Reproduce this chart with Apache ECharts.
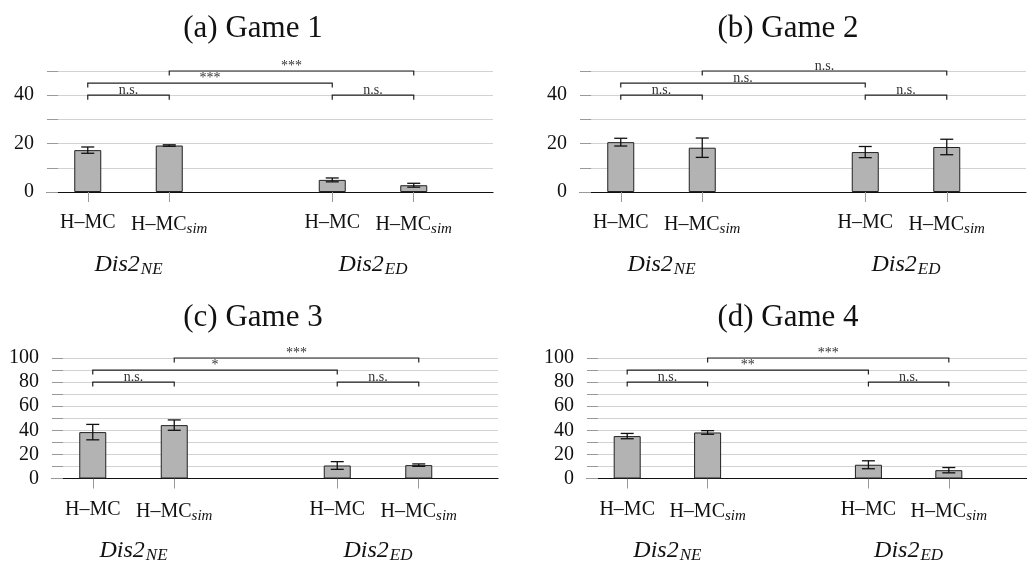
<!DOCTYPE html>
<html>
<head>
<meta charset="utf-8">
<script src="https://cdn.jsdelivr.net/npm/echarts@6/dist/echarts.min.js"></script>
<style>
html, body { margin: 0; padding: 0; background: #fff; }
#main { width: 1027px; height: 566px; }
</style>
</head>
<body>
<div id="main"></div>
<script>
// x slots: slot 2 is the empty gap between the two groups
var categories = ['H–MC', 'H–MC_sim', '', 'H–MC', 'H–MC_sim'];
var barSlots = [0, 1, 3, 4];
var groupNames = ['Dis2_NE', 'Dis2_ED'];
var groupSlots = [0.5, 3.5];

var titles = ['(a) Game 1', '(b) Game 2', '(c) Game 3', '(d) Game 4'];
var yMax = [50, 50, 100, 100];

var game1Mean = [17.3, 19.2, 5.0, 2.8];
var game1Err = [1.3, 0.3, 0.8, 0.8];
var game2Mean = [20.6, 18.3, 16.5, 18.6];
var game2Err = [1.6, 4.0, 2.3, 3.2];
var game3Mean = [38.5, 44.3, 10.8, 11.1];
var game3Err = [6.4, 4.3, 3.2, 1.0];
var game4Mean = [35.2, 38.2, 11.4, 6.9];
var game4Err = [2.2, 1.5, 3.3, 2.2];

// significance brackets: pairs of bars (index into barSlots), heights, labels
var bracketPairs = [[0, 1], [0, 2], [1, 3], [2, 3]];
var levelsSmall = [40, 45, 50, 40];
var levelsLarge = [80, 90, 100, 80];
var game1Sig = ['n.s.', '***', '***', 'n.s.'];
var game2Sig = ['n.s.', 'n.s.', 'n.s.', 'n.s.'];
var game3Sig = ['n.s.', '*', '***', 'n.s.'];
var game4Sig = ['n.s.', '**', '***', 'n.s.'];

var means = [game1Mean, game2Mean, game3Mean, game4Mean];
var errs = [game1Err, game2Err, game3Err, game4Err];
var sigs = [game1Sig, game2Sig, game3Sig, game4Sig];
var levels = [levelsSmall, levelsSmall, levelsLarge, levelsLarge];

var SERIF = '"Liberation Serif", "Times New Roman", serif';
var gridLeft = [47, 580, 52, 587];
var gridTop = [71, 71, 358, 358];
var gridH = [121, 121, 120.5, 120.5];
var titleX = [248, 783, 248, 783];
var titleY = [8, 8, 297, 297];
var xMax = -0.5 + 446 / 81.5;

function subLabel(name, bigStyle) {
  var parts = name.split('_');
  var head = bigStyle ? '{i|' + parts[0] + '}' : parts[0];
  return parts.length > 1 ? head + '{s|' + parts[1] + '}' : head;
}

function renderErr(params, api) {
  var x = api.value(0);
  var p1 = api.coord([x, api.value(1)]);
  var p2 = api.coord([x, api.value(2)]);
  var cap = 6.5;
  var st = { stroke: '#111', lineWidth: 1.3 };
  return {
    type: 'group',
    children: [
      { type: 'line', shape: { x1: p1[0], y1: p1[1], x2: p2[0], y2: p2[1] }, style: st },
      { type: 'line', shape: { x1: p1[0] - cap, y1: p1[1], x2: p1[0] + cap, y2: p1[1] }, style: st },
      { type: 'line', shape: { x1: p2[0] - cap, y1: p2[1], x2: p2[0] + cap, y2: p2[1] }, style: st }
    ]
  };
}

function bracketRenderer(labels) {
  return function (params, api) {
    var a = api.coord([api.value(0), api.value(2)]);
    var b = api.coord([api.value(1), api.value(2)]);
    var leg = 4.5;
    return {
      type: 'group',
      children: [
        {
          type: 'polyline',
          shape: { points: [[a[0], a[1] + leg], [a[0], a[1]], [b[0], b[1]], [b[0], b[1] + leg]] },
          style: { stroke: '#222', lineWidth: 1.2, fill: null }
        },
        {
          type: 'text',
          style: {
            text: labels[params.dataIndex],
            x: (a[0] + b[0]) / 2, y: a[1] + 2,
            align: 'center', verticalAlign: 'bottom',
            font: '14px ' + SERIF, fill: '#333'
          }
        }
      ]
    };
  };
}

var grid = [], xAxis = [], yAxis = [], series = [], title = [];
for (var p = 0; p < 4; p++) {
  grid.push({ left: gridLeft[p], top: gridTop[p], width: 446, height: gridH[p] });
  title.push({
    text: titles[p], left: titleX[p], top: titleY[p], textAlign: 'center',
    textStyle: { fontFamily: SERIF, fontSize: 31, fontWeight: 'normal', color: '#111' }
  });
  xAxis.push({
    type: 'value', gridIndex: p, min: -0.5, max: xMax,
    splitLine: { show: false },
    axisLine: { lineStyle: { color: '#111', width: 1.2 } },
    axisTick: { customValues: barSlots, length: 10, lineStyle: { color: '#999' } },
    axisLabel: {
      customValues: barSlots, margin: 21, color: '#111',
      fontFamily: SERIF, fontSize: 20,
      formatter: function (v) { return subLabel(categories[v], false); },
      rich: { s: { fontFamily: SERIF, fontStyle: 'italic', fontSize: 15, color: '#111', padding: [9, 0, 0, 0] } }
    }
  });
  xAxis.push({
    type: 'value', gridIndex: p, min: -0.5, max: xMax, position: 'bottom',
    splitLine: { show: false },
    axisLine: { show: false, onZero: false },
    axisTick: { show: false },
    axisLabel: {
      customValues: groupSlots, margin: 59, color: '#111',
      formatter: function (v) { return subLabel(groupNames[groupSlots.indexOf(v)], true); },
      rich: {
        i: { fontFamily: SERIF, fontStyle: 'italic', fontSize: 24, color: '#111' },
        s: { fontFamily: SERIF, fontStyle: 'italic', fontSize: 17, color: '#111', padding: [10, 0, 0, 1] }
      }
    }
  });
  yAxis.push({
    type: 'value', gridIndex: p, min: 0, max: yMax[p], interval: 10,
    axisLine: { show: false, onZero: false },
    axisTick: { show: true, inside: true, length: 11, lineStyle: { color: '#999' } },
    splitLine: { lineStyle: { color: '#d2d2d2', width: 1 } },
    axisLabel: {
      margin: 13, color: '#111', fontFamily: SERIF, fontSize: 20,
      formatter: function (v) { return v % 20 === 0 ? String(v) : ''; }
    }
  });
  var m = means[p], e = errs[p], lv = levels[p];
  series.push({
    type: 'bar', xAxisIndex: 2 * p, yAxisIndex: p, barWidth: 27,
    itemStyle: { color: '#b3b3b3', borderColor: '#222', borderWidth: 1 },
    data: barSlots.map(function (s, i) { return [s, m[i]]; })
  });
  series.push({
    type: 'custom', xAxisIndex: 2 * p, yAxisIndex: p, renderItem: renderErr,
    encode: { x: 0, y: [1, 2] },
    data: barSlots.map(function (s, i) { return [s, m[i] - e[i], m[i] + e[i]]; }),
    z: 5
  });
  series.push({
    type: 'custom', xAxisIndex: 2 * p, yAxisIndex: p, renderItem: bracketRenderer(sigs[p]),
    encode: { x: [0, 1], y: 2 },
    data: bracketPairs.map(function (pr, i) { return [barSlots[pr[0]], barSlots[pr[1]], lv[i]]; }),
    z: 6
  });
}

var myChart = echarts.init(document.getElementById('main'));
myChart.setOption({
  animation: false,
  title: title,
  grid: grid,
  xAxis: xAxis,
  yAxis: yAxis,
  series: series
});
</script>
</body>
</html>
